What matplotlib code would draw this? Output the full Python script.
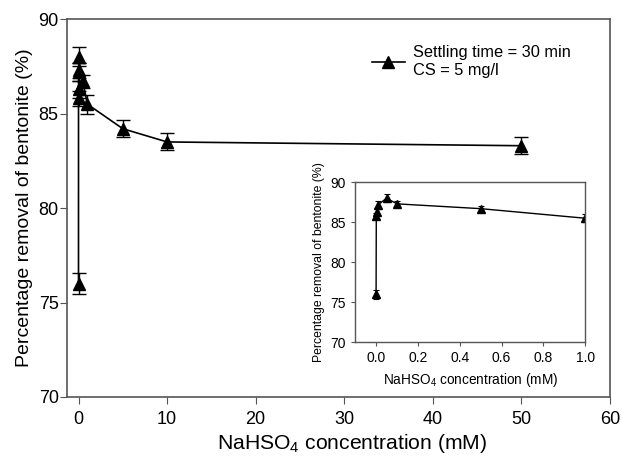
import matplotlib
matplotlib.use('Agg')
import matplotlib.pyplot as plt
from matplotlib.lines import Line2D

plt.rcParams['font.family'] = 'Liberation Sans'
plt.rcParams['mathtext.fontset'] = 'custom'
plt.rcParams['mathtext.rm'] = 'Liberation Sans'
plt.rcParams['mathtext.it'] = 'Liberation Sans:italic'

# NaHSO4 concentration (mM) vs removal (%)
conc = [0, 0.001, 0.005, 0.01, 0.05, 0.1, 0.5, 1, 5, 10, 50]
removal = [76.0, 85.8, 86.3, 87.2, 88.0, 87.3, 86.7, 85.5, 84.2, 83.5, 83.3]
err = [0.55, 0.4, 0.45, 0.5, 0.5, 0.4, 0.35, 0.5, 0.45, 0.45, 0.45]

# inset only shows the low range
conc_in = conc[:8]
removal_in = removal[:8]
err_in = err[:8]

xlab = 'NaHSO$_4$ concentration (mM)'
ylab = 'Percentage removal of bentonite (%)'
spine_c = '#555555'

fig = plt.figure(figsize=(6.22, 4.58), dpi=100)
ax = fig.add_axes([0.1077, 0.1332, 0.873, 0.825])
ax.errorbar(conc, removal, yerr=err, color='black', marker='^', markersize=8,
            lw=1.2, capsize=5, elinewidth=1, capthick=1)
ax.set_xlim(-1.3, 60)
ax.set_ylim(70, 90)
ax.set_xticks(range(0, 61, 10))
ax.set_yticks(range(70, 91, 5))
ax.tick_params(labelsize=13, direction='out', length=5, color=spine_c)
ax.tick_params(axis='x', pad=5)
ax.tick_params(axis='y', pad=1)
ax.set_xlabel(xlab, fontsize=15.2)
ax.set_ylabel(ylab, fontsize=14)
ax.xaxis.set_label_coords(0.525, -0.093)
for s in ax.spines.values():
    s.set_color(spine_c)
    s.set_linewidth(1.2)
handle = Line2D([], [], color='black', marker='^', markersize=8, lw=1.2)
ax.legend([handle], ['Settling time = 30 min\nCS = 5 mg/l'], loc='upper right',
          bbox_to_anchor=(0.955, 0.97), frameon=False, fontsize=11.8,
          handlelength=2.0, handletextpad=0.5)

# inset
axi = fig.add_axes([0.571, 0.253, 0.370, 0.349])
axi.errorbar(conc_in, removal_in, yerr=err_in, color='black', marker='^',
             markersize=6, lw=1, capsize=2.5, elinewidth=0.8, capthick=0.8)
axi.set_xlim(-0.1, 1.0)
axi.set_ylim(70, 90)
axi.set_xticks([0, 0.2, 0.4, 0.6, 0.8, 1.0])
axi.set_xticklabels(['0.0', '0.2', '0.4', '0.6', '0.8', '1.0'])
axi.set_yticks(range(70, 91, 5))
axi.tick_params(labelsize=10, direction='out', length=3, color=spine_c)
axi.set_xlabel(xlab, fontsize=9.8)
axi.set_ylabel(ylab, fontsize=8.8)
for s in axi.spines.values():
    s.set_color(spine_c)
    s.set_linewidth(1)

fig.savefig('out.png', dpi=100)
